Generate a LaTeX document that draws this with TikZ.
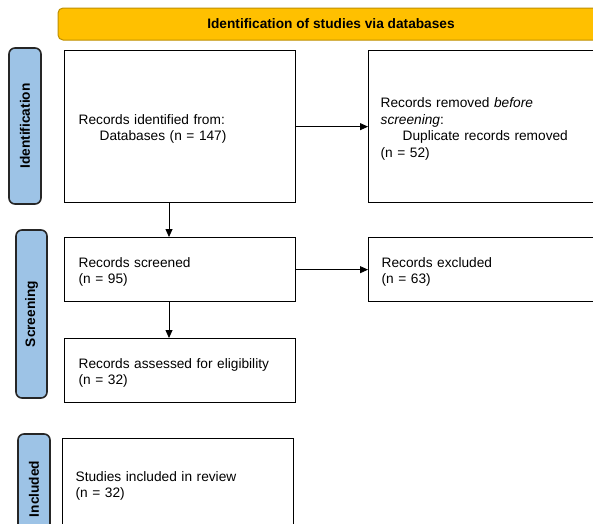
\documentclass[tikz,border=0pt]{standalone}
\usepackage{fontspec}
\setmainfont{Liberation Sans}
\usetikzlibrary{arrows.meta,positioning}
\definecolor{bannerfill}{HTML}{FFC000}
\definecolor{bannerline}{HTML}{BF9000}
\definecolor{sidefill}{HTML}{9DC3E6}
\definecolor{sideline}{HTML}{262626}
\begin{document}
\begin{tikzpicture}[x=1pt,y=-1pt,
  every node/.style={font=\fontsize{13.7}{16.5}\selectfont},
  banner/.style={draw=bannerline,fill=bannerfill,rounded corners=5pt,line width=1pt,
    minimum width=546pt,minimum height=32pt,inner sep=0pt,font=\fontsize{13.7}{16.5}\selectfont\bfseries},
  sidelabel/.style={draw=sideline,fill=sidefill,rounded corners=6pt,line width=1.6pt,
    rotate=90,inner sep=0pt,font=\fontsize{13.7}{16.5}\selectfont\bfseries},
  flowbox/.style={draw=black,line width=1.3pt,fill=white,align=left,anchor=north west,inner ysep=0pt,
    execute at begin node={\rule{0pt}{15pt}}},
  arr/.style={-{Triangle[length=8pt,width=7pt]},line width=0.8pt}]
\clip (0,0) rectangle (593,523);
\fill[white] (0,0) rectangle (593,523);
% banner
\node[banner] (banner) at (331,24) {Identification of studies via databases};
% side labels
\node[sidelabel,minimum width=156pt,minimum height=32pt] (sid) at (25,126) {Identification};
\node[sidelabel,minimum width=168pt,minimum height=31pt] (sscr) at (31.5,314) {Screening};
\node[sidelabel,minimum width=110pt,minimum height=32pt] (sinc) at (34,489) {Included};
% boxes
\node[flowbox,inner xsep=14pt,text width=203pt,minimum height=152pt] (b1) at (64,50)
  {Records identified from:\\\hspace*{21pt}Databases (n = 147)};
\node[flowbox,inner xsep=12pt,text width=216pt,minimum height=152pt] (b2) at (368,50)
  {Records removed \emph{before}\\\emph{screening}:\\\hspace*{22pt}Duplicate records removed\\(n = 52)};
\node[flowbox,inner xsep=14pt,text width=203pt,minimum height=64pt] (b3) at (64,237)
  {Records screened\\(n = 95)};
\node[flowbox,inner xsep=13pt,text width=214pt,minimum height=64pt] (b4) at (368,237)
  {Records excluded\\(n = 63)};
\node[flowbox,inner xsep=14pt,text width=203pt,minimum height=64pt] (b5) at (64,338)
  {Records assessed for eligibility\\(n = 32)};
\node[flowbox,inner xsep=13pt,text width=205pt,minimum height=90pt] (b6) at (62,438)
  {Studies included in review\\(n = 32)};
% connectors
\coordinate (ax) at (169,0);
\draw[arr] (b1.east) -- (b1.east -| b2.west);
\draw[arr] (b3.east) -- (b3.east -| b4.west);
\draw[arr] (b1.south -| ax) -- (b3.north -| ax);
\draw[arr] (b3.south -| ax) -- (b5.north -| ax);
\end{tikzpicture}
\end{document}
